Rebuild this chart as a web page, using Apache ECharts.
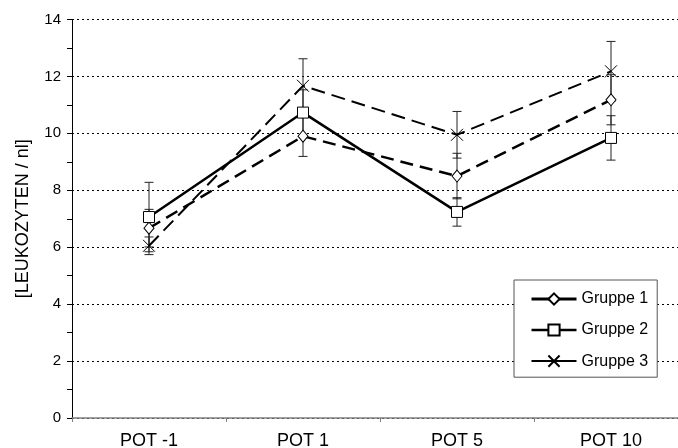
<!DOCTYPE html>
<html>
<head>
<meta charset="utf-8">
<script src="https://cdn.jsdelivr.net/npm/echarts@6/dist/echarts.min.js"></script>
<style>
  html, body { margin: 0; padding: 0; background: #fff; }
  #chart { width: 678px; height: 448px; }
</style>
</head>
<body>
<div id="chart"></div>
<script>
// Leukocyte counts per group at each post-operative time point (mean ± error)
var categories = ['POT -1', 'POT 1', 'POT 5', 'POT 10'];
var yTicks = [0, 2, 4, 6, 8, 10, 12, 14];

var gruppe1 = [6.67, 9.9, 8.5, 11.18];
var gruppe1Err = [0.66, 0.71, 0.8, 0.88];

var gruppe2 = [7.06, 10.73, 7.24, 9.84];
var gruppe2Err = [1.22, 0.8, 0.5, 0.78];

var gruppe3 = [6.05, 11.67, 9.95, 12.18];
var gruppe3Err = [0.31, 0.95, 0.82, 1.05];

var FONT = 'Liberation Sans, Arial, sans-serif';
var crossPath = 'path://M0,0L10,10M10,0L0,10';

// error bars: vertical whisker with a cap at each end
function errorData(means, errs) {
  return means.map(function (m, i) { return [i, m - errs[i], m + errs[i]]; });
}
function renderErrorBar(params, api) {
  var idx = api.value(0);
  var lo = api.coord([idx, api.value(1)]);
  var hi = api.coord([idx, api.value(2)]);
  var half = 4.5;
  var style = { stroke: '#222', lineWidth: 1 };
  return {
    type: 'group',
    children: [
      { type: 'line', shape: { x1: hi[0], y1: hi[1], x2: lo[0], y2: lo[1] }, style: style },
      { type: 'line', shape: { x1: hi[0] - half, y1: hi[1], x2: hi[0] + half, y2: hi[1] }, style: style },
      { type: 'line', shape: { x1: lo[0] - half, y1: lo[1], x2: lo[0] + half, y2: lo[1] }, style: style }
    ]
  };
}
function errorSeries(name, means, errs) {
  return {
    name: name,
    type: 'custom',
    silent: true,
    z: 1,
    renderItem: renderErrorBar,
    encode: { x: 0, y: [1, 2] },
    data: errorData(means, errs)
  };
}

var markerStyle = { color: '#fff', borderColor: '#000', borderWidth: 1 };

var chart = echarts.init(document.getElementById('chart'), null, { renderer: 'canvas' });
chart.setOption({
  animation: false,
  backgroundColor: '#fff',
  // the plot runs a little past the right edge of the canvas
  grid: { left: 72, width: 616, top: 19.5, height: 398.5, outerBoundsMode: 'none', containLabel: false },
  legend: {
    data: [
      { name: 'Gruppe 1', lineStyle: { type: 'solid', width: 3 } },
      { name: 'Gruppe 2', lineStyle: { type: 'solid', width: 2.5 } },
      { name: 'Gruppe 3', lineStyle: { type: 'solid', width: 2 } }
    ],
    orient: 'vertical',
    left: 514,
    top: 280,
    padding: [11, 9, 8, 16],
    itemWidth: 45,
    itemHeight: 14,
    itemGap: 15,
    borderColor: '#555',
    borderWidth: 1,
    backgroundColor: '#fff',
    textStyle: { fontFamily: FONT, fontSize: 16, color: '#000' }
  },
  xAxis: {
    type: 'category',
    data: categories,
    boundaryGap: true,
    axisLine: { lineStyle: { color: '#808080', width: 1.5 } },
    axisTick: { show: true, length: 4, lineStyle: { color: '#808080' } },
    axisLabel: { fontFamily: FONT, fontSize: 18, color: '#000', margin: 14 },
    splitLine: { show: false }
  },
  yAxis: {
    type: 'value',
    min: yTicks[0],
    max: yTicks[yTicks.length - 1],
    interval: 2,
    name: '[LEUKOZYTEN / nl]',
    nameLocation: 'middle',
    nameGap: 40,
    nameTextStyle: { fontFamily: FONT, fontSize: 18, color: '#000' },
    axisLine: { show: true, lineStyle: { color: '#000', width: 1 } },
    axisTick: { show: true, length: 5, lineStyle: { color: '#000' } },
    minorTick: { show: true, splitNumber: 2, length: 5, lineStyle: { color: '#000' } },
    axisLabel: { fontFamily: FONT, fontSize: 15, color: '#000', margin: 11 },
    splitLine: { show: true, lineStyle: { color: '#000', width: 1, type: [2, 3] } }
  },
  series: [
    errorSeries('err1', gruppe1, gruppe1Err),
    errorSeries('err2', gruppe2, gruppe2Err),
    errorSeries('err3', gruppe3, gruppe3Err),
    {
      name: 'Gruppe 1',
      type: 'line',
      data: gruppe1,
      z: 3,
      symbol: 'diamond',
      symbolSize: [10, 12],
      showAllSymbol: true,
      lineStyle: { color: '#000', width: 2.5, type: [13, 7] },
      itemStyle: markerStyle
    },
    {
      name: 'Gruppe 2',
      type: 'line',
      data: gruppe2,
      z: 3,
      symbol: 'rect',
      symbolSize: 11,
      showAllSymbol: true,
      lineStyle: { color: '#000', width: 2.5, type: 'solid' },
      itemStyle: markerStyle
    },
    {
      name: 'Gruppe 3',
      type: 'line',
      data: gruppe3,
      z: 3,
      symbol: crossPath,
      symbolSize: 12,
      showAllSymbol: true,
      lineStyle: { color: '#000', width: 2, type: [14, 7] },
      itemStyle: { color: 'none', borderColor: '#000', borderWidth: 1 }
    }
  ]
});
</script>
</body>
</html>
